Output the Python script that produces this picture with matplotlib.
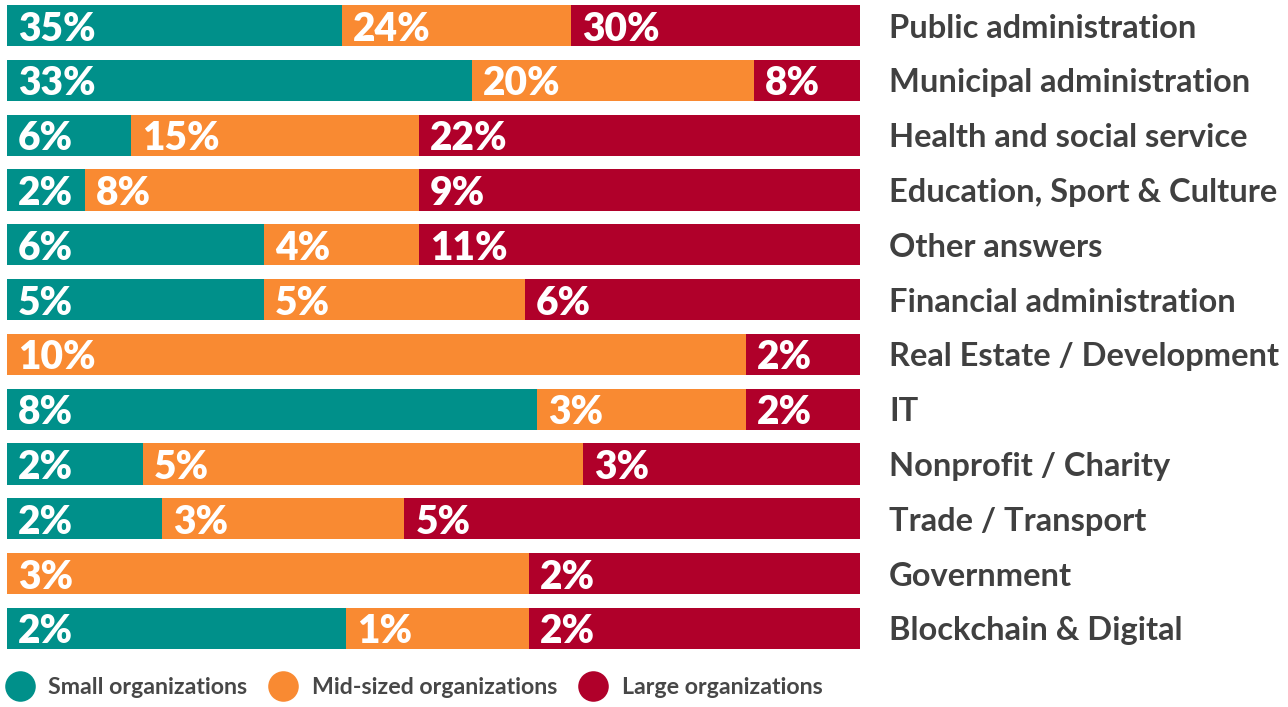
import numpy as np
import matplotlib.pyplot as plt
from matplotlib.lines import Line2D

categories = ["Public administration", "Municipal administration", "Health and social service",
              "Education, Sport & Culture", "Other answers", "Financial administration",
              "Real Estate / Development", "IT", "Nonprofit / Charity", "Trade / Transport",
              "Government", "Blockchain & Digital"]
series = ["Small organizations", "Mid-sized organizations", "Large organizations"]

# labels shown in the bars
small_lbl = [35, 33, 6, 2, 6, 5, 0, 8, 2, 2, 0, 2]
mid_lbl = [24, 20, 15, 8, 4, 5, 10, 3, 5, 3, 3, 1]
large_lbl = [30, 8, 22, 9, 11, 6, 2, 2, 3, 5, 2, 2]

# share of each bar (percent of bar length)
small_share = [39.3, 54.5, 14.5, 9.1, 30.1, 30.1, 0.0, 62.1, 15.9, 18.2, 0.0, 39.7]
mid_share = [26.8, 33.1, 33.8, 39.2, 18.2, 30.6, 86.6, 24.5, 51.6, 28.4, 61.2, 21.5]
large_share = [33.9, 12.4, 51.7, 51.7, 51.7, 39.3, 13.4, 13.4, 32.5, 53.5, 38.8, 38.8]

colors = ["#00908a", "#f98a32", "#b0002a"]
grey = "#404040"

plt.rcParams['font.family'] = ['Lato', 'DejaVu Sans']

fig = plt.figure(figsize=(12.88, 7.07), dpi=100)
ax = fig.add_axes([7 / 1288, 58 / 707, 853 / 1288, 644 / 707])

y = np.arange(len(categories))
left = np.zeros(len(categories))
for shares, labels, c in zip([small_share, mid_share, large_share],
                             [small_lbl, mid_lbl, large_lbl], colors):
    ax.barh(y, shares, left=left, height=0.75, color=c, edgecolor='none')
    for yi, l, s, v in zip(y, left, shares, labels):
        if s > 0:
            ax.annotate(f"{v}%", (l, yi), xytext=(8, 0), textcoords='offset points',
                        ha='left', va='center_baseline', color='white',
                        fontsize=28, fontweight='heavy')
    left += np.array(shares)

ax.set_xlim(0, 100)
ax.set_ylim(len(categories) - 1 + 0.375, -0.375)
ax.yaxis.tick_right()
ax.set_yticks(y)
ax.set_yticklabels(categories, fontsize=23.5, fontweight='bold', color=grey)
ax.tick_params(axis='y', length=0, pad=21)
ax.set_xticks([])
for sp in ax.spines.values():
    sp.set_visible(False)

handles = [Line2D([], [], marker='o', linestyle='none', markersize=22,
                  markerfacecolor=c, markeredgecolor='none') for c in colors]
fig.legend(handles, series, loc='center left', bbox_to_anchor=(8 / 1288, 1 - 688 / 707),
           ncol=3, frameon=False, labelcolor="#474747",
           handlelength=1.0, handletextpad=0.73, columnspacing=1.05,
           borderpad=0, borderaxespad=0, prop={'weight': 'bold', 'size': 16.7})

fig.savefig("out.png", dpi=100)
